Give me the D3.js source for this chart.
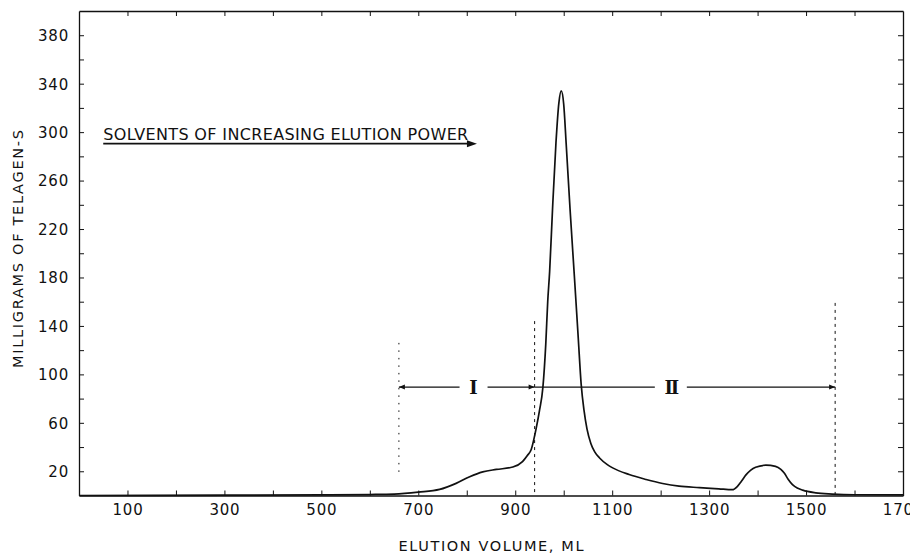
<!DOCTYPE html>
<html>
<head>
<meta charset="utf-8">
<script src="https://cdn.jsdelivr.net/npm/d3@7/dist/d3.min.js"></script>
<style>
  html, body { margin: 0; padding: 0; background: #fff; }
  svg { display: block; }
  text { fill: #111; }
</style>
</head>
<body>
<svg id="chart" width="910" height="553"></svg>
<script>
// ---- data ----
const elutionVolume = [0, 300, 500, 600, 650, 700, 744, 778, 806, 833, 861, 895, 915, 925, 933, 943, 950, 957, 963, 967, 971, 977, 984, 990, 995, 1000, 1005, 1013, 1022, 1030, 1036, 1042, 1048, 1056, 1064, 1074, 1090, 1101, 1135, 1170, 1204, 1238, 1280, 1320, 1348, 1358, 1367, 1376, 1386, 1396, 1417, 1437, 1448, 1455, 1463, 1472, 1483, 1493, 1520, 1554, 1600, 1700];
const milligrams    = [0, 0.3, 0.5, 0.8, 1.2, 2.8, 5, 10, 15.5, 19.5, 21.5, 23.5, 28, 33, 38, 55, 70, 89, 125, 160, 185, 237, 291, 324, 334, 323, 291, 237, 181, 130, 92, 70, 55, 43, 36, 31, 25.5, 22.8, 17.3, 13.2, 9.9, 7.7, 6.5, 5.5, 4.8, 7.4, 12, 17, 21, 23.3, 25, 24, 21.5, 18.5, 13.5, 9, 6, 4.4, 2.2, 1.2, 0.6, 0.5];

const xTickValues = [100, 200, 300, 400, 500, 600, 700, 800, 900, 1000, 1100, 1200, 1300, 1400, 1500, 1600, 1700];
const xTickLabels = ["100", "", "300", "", "500", "", "700", "", "900", "", "1100", "", "1300", "", "1500", "", "1700"];
const yTickValues = [20, 40, 60, 80, 100, 120, 140, 160, 180, 200, 220, 240, 260, 280, 300, 320, 340, 360, 380];
const yTickLabels = ["20", "", "60", "", "100", "", "140", "", "180", "", "220", "", "260", "", "300", "", "340", "", "380"];

// fraction boundaries (vertical dotted lines)
const boundaryVolume = [660, 940, 1560];
const boundaryTop    = [126, 144, 159];
const boundaryBottom = [16, 0, 0];
// fraction labels
const fractionLabels = ["I", "II"];
const fractionStart  = [660, 940];
const fractionEnd    = [940, 1560];
const fractionLabelX = [814, 1221];
const fractionLevel  = 89.5;

const titleX = "ELUTION VOLUME, ML";
const titleY = "MILLIGRAMS OF TELAGEN-S";
const noteText = "SOLVENTS OF INCREASING ELUTION POWER";
const noteStart = 50, noteEnd = 821, noteLevel = 290.5, noteTextLevel = 293.5;

// ---- layout ----
const svg = d3.select("#chart");
const x = d3.scaleLinear().domain([0, 1700]).range([79, 903]);
const y = d3.scaleLinear().domain([0, 400]).range([495.5, 11]);
const ink = "#111";
const FONT = "'DejaVu Sans', 'Liberation Sans', Arial, sans-serif";

// frame axes
const gB = svg.append("g").attr("transform", `translate(0,${y(0)})`)
  .call(d3.axisBottom(x).tickValues(xTickValues).tickSizeInner(-5).tickSizeOuter(0).tickPadding(9)
    .tickFormat((d, i) => xTickLabels[i]));
const gT = svg.append("g").attr("transform", `translate(0,${y(400)})`)
  .call(d3.axisTop(x).tickValues(xTickValues.filter(v => v < 1700)).tickSizeInner(-5).tickSizeOuter(0).tickFormat(""));
const gL = svg.append("g").attr("transform", `translate(${x(0)},0)`)
  .call(d3.axisLeft(y).tickValues(yTickValues).tickSizeInner(-5).tickSizeOuter(0).tickPadding(10)
    .tickFormat((d, i) => yTickLabels[i]));
const gR = svg.append("g").attr("transform", `translate(${x(1700)},0)`)
  .call(d3.axisRight(y).tickValues(yTickValues).tickSizeInner(-5).tickSizeOuter(0).tickFormat(""));

[gB, gT, gL, gR].forEach(g => {
  g.selectAll("path.domain").attr("stroke", ink).attr("stroke-width", 1.3);
  g.selectAll(".tick line").attr("stroke", ink).attr("stroke-width", 1);
  g.selectAll(".tick text").attr("fill", ink).attr("font-family", FONT)
    .attr("font-size", 15).attr("letter-spacing", "0.8px");
});
gL.selectAll(".tick text").attr("dy", "0.36em");

// axis titles
svg.append("text")
  .attr("x", (x(0) + x(1700)) / 2).attr("y", 550.5)
  .attr("text-anchor", "middle").attr("font-family", FONT).attr("font-size", 14.5)
  .attr("textLength", 185).attr("lengthAdjust", "spacing")
  .text(titleX);
svg.append("text")
  .attr("transform", `translate(23,${249}) rotate(-90)`)
  .attr("text-anchor", "middle").attr("font-family", FONT).attr("font-size", 14.5)
  .attr("textLength", 238).attr("lengthAdjust", "spacing")
  .text(titleY);

// annotation arrow
svg.append("text")
  .attr("x", x(noteStart)).attr("y", y(noteTextLevel))
  .attr("font-family", FONT).attr("font-size", 16)
  .attr("textLength", 365).attr("lengthAdjust", "spacing")
  .text(noteText);
svg.append("line")
  .attr("x1", x(noteStart)).attr("x2", x(noteEnd) - 6)
  .attr("y1", y(noteLevel)).attr("y2", y(noteLevel))
  .attr("stroke", ink).attr("stroke-width", 1.6);
svg.append("path")
  .attr("d", `M${x(noteEnd)},${y(noteLevel)} l-10,-3.5 l0,7 z`)
  .attr("fill", ink);

// boundary dotted lines
boundaryVolume.forEach((v, i) => {
  svg.append("line")
    .attr("x1", x(v)).attr("x2", x(v))
    .attr("y1", y(boundaryTop[i])).attr("y2", y(boundaryBottom[i]))
    .attr("stroke", ink).attr("stroke-width", 1)
    .attr("stroke-dasharray", i === 0 ? "1.5,6" : "3,4");
});

// fraction lines with labels
fractionLabels.forEach((lab, i) => {
  const yl = y(fractionLevel);
  const gap = lab === "I" ? 14 : 16;
  const cx = x(fractionLabelX[i]);
  svg.append("line").attr("x1", x(fractionStart[i])).attr("x2", cx - gap)
    .attr("y1", yl).attr("y2", yl).attr("stroke", ink).attr("stroke-width", 1.1);
  svg.append("line").attr("x1", cx + gap).attr("x2", x(fractionEnd[i]))
    .attr("y1", yl).attr("y2", yl).attr("stroke", ink).attr("stroke-width", 1.1);
  svg.append("text").attr("x", cx).attr("y", yl).attr("dy", "0.36em")
    .attr("text-anchor", "middle").attr("font-family", "'DejaVu Serif', 'Liberation Serif', serif")
    .attr("font-weight", "bold").attr("font-size", 18)
    .attr("letter-spacing", lab === "II" ? "-2px" : "0px")
    .text(lab);
  if (i === 0) {
    svg.append("path").attr("d", `M${x(fractionStart[i])},${yl} l6,-2.5 l0,5 z`).attr("fill", ink);
  }
  svg.append("path").attr("d", `M${x(fractionEnd[i])},${yl} l-6,-2.5 l0,5 z`).attr("fill", ink);
});

// curve
const pts = elutionVolume.map((v, i) => [v, milligrams[i]]);
const line = d3.line().x(d => x(d[0])).y(d => y(d[1])).curve(d3.curveMonotoneX);
svg.append("path").datum(pts)
  .attr("d", line)
  .attr("fill", "none").attr("stroke", ink).attr("stroke-width", 1.7)
  .attr("stroke-linejoin", "round");
</script>
</body>
</html>
